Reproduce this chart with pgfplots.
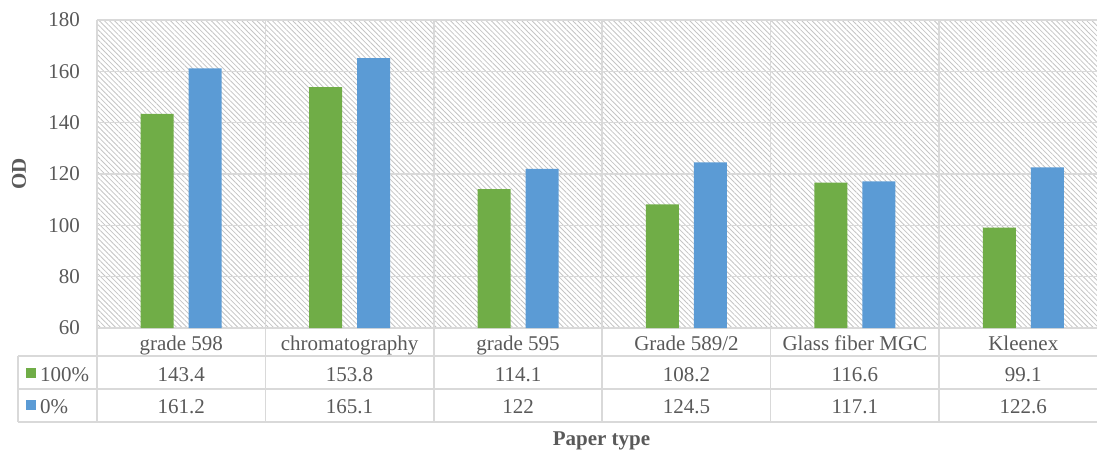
\documentclass[border=0pt]{standalone}
\usepackage{fontspec}
\setmainfont{Liberation Serif}
\usepackage{pgfplots}
\pgfplotsset{compat=1.18}
\usepackage{pgfplotstable}
\usetikzlibrary{patterns.meta}
\definecolor{cgreen}{HTML}{70AD47}
\definecolor{cblue}{HTML}{5B9BD5}
\definecolor{ctext}{HTML}{595959}
\definecolor{cgrid}{HTML}{D9D9D9}
\definecolor{chatch}{HTML}{C4C4C4}

\pgfplotstableread{
x a b
0 143.4 161.2
1 153.8 165.1
2 114.1 122
3 108.2 124.5
4 116.6 117.1
5 99.1 122.6
}\data

\newcommand{\drawtable}{%
  \foreach \yy in {49.09,36.23,23.38}
    \draw[cgrid, line width=1.6pt] (axis cs:-0.969,\yy) -- (axis cs:5.6,\yy);
  \foreach \xx in {-0.5,0.5,1.5,2.5,3.5,4.5}
    \draw[cgrid, line width=1.6pt] (axis cs:\xx,60) -- (axis cs:\xx,23.38);
  \draw[cgrid, line width=1.6pt] (axis cs:-0.969,49.09) -- (axis cs:-0.969,23.38);
  \foreach \i in {0,...,5}{%
    \pgfplotstablegetelem{\i}{a}\of\data
    \node[anchor=base, inner sep=0pt, text=ctext] at (axis cs:\i,39.35) {\pgfplotsretval};
    \pgfplotstablegetelem{\i}{b}\of\data
    \node[anchor=base, inner sep=0pt, text=ctext] at (axis cs:\i,26.88) {\pgfplotsretval};
  }
  \fill[cgreen] (axis cs:-0.9216,44.42) rectangle (axis cs:-0.8622,40.52);
  \fill[cblue] (axis cs:-0.9216,31.95) rectangle (axis cs:-0.8622,28.05);
  \node[anchor=base west, inner sep=0pt, text=ctext] at (axis cs:-0.8385,39.35) {100\%};
  \node[anchor=base west, inner sep=0pt, text=ctext] at (axis cs:-0.8385,26.88) {0\%};
}

\begin{document}
\begin{tikzpicture}[font=\fontsize{21}{25}\selectfont]
\useasboundingbox (0pt,0pt) rectangle (1097pt,451pt);
\begin{axis}[
  at={(97pt,123pt)}, anchor=south west,
  scale only axis, width=1000pt, height=308pt,
  xmin=-0.5, xmax=5.438, ymin=60, ymax=180,
  axis line style={draw=none},
  /pgf/number format/assume math mode=true,
  ytick={60,80,...,180},
  xtick={0,...,5},
  xticklabels={grade 598, chromatography, grade 595, Grade 589/2, Glass fiber MGC, Kleenex},
  minor xtick={-0.5,0.5,1.5,2.5,3.5,4.5},
  major tick length=0pt, minor tick length=0pt,
  ymajorgrids, xminorgrids,
  grid style={cgrid, line width=1.6pt},
  minor grid style={cgrid, line width=1.6pt},
  axis background/.style={pattern={Lines[angle=-45,distance=3.6pt,line width=0.8pt]}, pattern color=chatch},
  xticklabel style={anchor=base, yshift=-22pt, inner sep=0pt, text=ctext},
  yticklabel style={anchor=east, inner sep=0pt, xshift=-17pt, text=ctext},
  xlabel={\textbf{Paper type}},
  xlabel style={at={(axis description cs:0.5045,-0.383)}, anchor=base, inner sep=0pt, text=ctext},
  ylabel={\textbf{OD}},
  ylabel style={at={(axis description cs:-0.078,0.5)}, anchor=center, text=ctext},
  after end axis/.code={\drawtable},
]
\addplot[ybar, bar width=33pt, bar shift=-24pt, fill=cgreen, draw=none] table[x=x, y=a] {\data};
\addplot[ybar, bar width=33pt, bar shift=24pt, fill=cblue, draw=none] table[x=x, y=b] {\data};
\end{axis}
\end{tikzpicture}
\end{document}
